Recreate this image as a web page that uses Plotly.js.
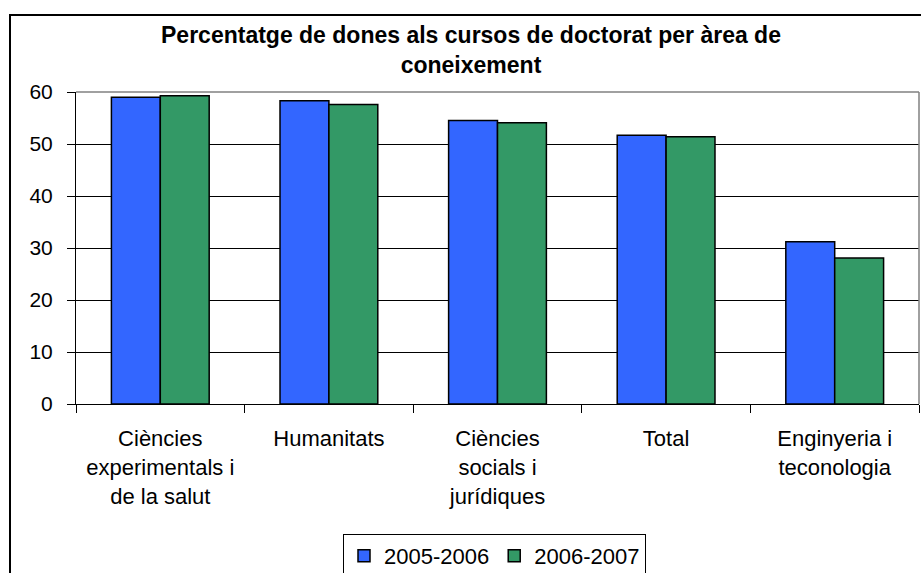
<!DOCTYPE html>
<html>
<head>
<meta charset="utf-8">
<script src="https://cdn.plot.ly/plotly-3.0.1.min.js"></script>
<style>
html,body{margin:0;padding:0;background:#fff;}
#chart{width:921px;height:573px;}
</style>
</head>
<body>
<div id="chart"></div>
<script>
const categories = ['Ciències<br>experimentals i<br>de la salut', 'Humanitats', 'Ciències<br>socials i<br>jurídiques', 'Total', 'Enginyeria i<br>teconologia'];
const seriesNames = ['2005-2006', '2006-2007'];
const values2005 = [59.0, 58.3, 54.5, 51.7, 31.2];
const values2006 = [59.3, 57.6, 54.1, 51.4, 28.1];
const yTicks = [0, 10, 20, 30, 40, 50, 60];

const FONT = 'Arial, "Liberation Sans", sans-serif';

const traces = [
  {type: 'bar', name: seriesNames[0], x: categories, y: values2005,
   marker: {color: '#3366FF', line: {color: '#000', width: 1.5}}},
  {type: 'bar', name: seriesNames[1], x: categories, y: values2006,
   marker: {color: '#339966', line: {color: '#000', width: 1.5}}}
];

const L = 76, R = 2, T = 92, B = 169;
const W = 921, H = 573;
const pw = W - L - R, ph = H - T - B;
const px = v => (v - L) / pw;
const py = v => (H - B - v) / ph;

const layout = {
  width: W, height: H,
  margin: {l: L, r: R, t: T, b: B, pad: 0, autoexpand: false},
  paper_bgcolor: '#fff', plot_bgcolor: '#fff',
  font: {family: FONT, size: 21, color: '#000'},
  title: {
    text: '<b>Percentatge de dones als cursos de doctorat per àrea de<br>coneixement</b>',
    font: {family: FONT, size: 23, color: '#000'},
    x: 471 / W, xanchor: 'center', xref: 'container',
    y: 1 - 43 / H, yanchor: 'top', yref: 'container'
  },
  barmode: 'group', bargap: 0.42, bargroupgap: 0,
  xaxis: {
    type: 'category', showgrid: false, showline: true, linecolor: '#000', linewidth: 1,
    ticks: 'outside', tickson: 'boundaries', ticklen: 8, tickcolor: '#000', tickwidth: 1,
    ticklabelstandoff: 15, automargin: false,
    tickfont: {family: FONT, size: 22, color: '#000'}, fixedrange: true
  },
  yaxis: {
    range: [0, 60], tickvals: yTicks, ticktext: yTicks.map(String),
    showgrid: true, gridcolor: '#000', gridwidth: 1, zeroline: false,
    showline: true, linecolor: '#000', linewidth: 1,
    ticks: 'outside', ticklen: 8, tickcolor: '#000', tickwidth: 1,
    ticklabelstandoff: 10, automargin: false,
    tickfont: {family: FONT, size: 21, color: '#000'}, fixedrange: true
  },
  showlegend: true,
  legend: {
    orientation: 'h', xref: 'container', yref: 'container',
    x: 494.5 / W, xanchor: 'center', y: 1 - 534 / H, yanchor: 'top',
    bgcolor: '#fff', bordercolor: '#000', borderwidth: 1,
    font: {family: FONT, size: 22, color: '#000'},
    itemwidth: 30, traceorder: 'normal'
  },
  shapes: [
    {type: 'rect', xref: 'paper', yref: 'paper', x0: px(10), x1: px(930), y0: py(585), y1: py(15),
     line: {color: '#000', width: 2}, fillcolor: 'rgba(0,0,0,0)', layer: 'below'},
    {type: 'line', xref: 'paper', yref: 'paper', x0: 0, x1: 1, y0: 1, y1: 1,
     line: {color: '#808080', width: 1.5}, layer: 'above'},
    {type: 'line', xref: 'paper', yref: 'paper', x0: 1, x1: 1, y0: 0, y1: 1,
     line: {color: '#808080', width: 1.5}, layer: 'above'}
  ]
};

Plotly.newPlot('chart', traces, layout, {displayModeBar: false, staticPlot: true});
</script>
</body>
</html>
